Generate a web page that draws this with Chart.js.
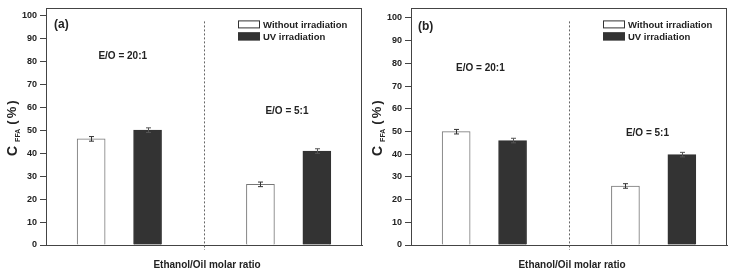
<!DOCTYPE html>
<html>
<head>
<meta charset="utf-8">
<script src="https://cdn.jsdelivr.net/npm/chart.js@4.4.1/dist/chart.umd.min.js"></script>
<style>
  html, body { margin: 0; padding: 0; background: #fff; }
  #wrap { position: relative; width: 733px; height: 275px; overflow: hidden; }
  #cA { position: absolute; left: 0; top: 0; }
  #cB { position: absolute; left: 365px; top: 0; }
</style>
</head>
<body>
<div id="wrap">
  <canvas id="cA" width="365" height="275"></canvas>
  <canvas id="cB" width="368" height="275"></canvas>
</div>
<script>
// ---- data ----
const seriesNames = ['Without irradiation', 'UV irradiation'];
const groupLabels = ['E/O = 20:1', 'E/O = 5:1'];
const panelLabels = ['(a)', '(b)'];
const xTitle = 'Ethanol/Oil molar ratio';
const yTickValues = [0, 10, 20, 30, 40, 50, 60, 70, 80, 90, 100];
// bar positions on the x axis (group 20:1 -> 1,2 ; group 5:1 -> 4,5)
const withoutX = [1, 4];
const uvX = [2, 5];
const dividerX = 3;
// panel (a)
const aWithout = [46.2, 26.4];
const aWithoutErr = [1.0, 1.0];
const aUV = [50.0, 40.9];
const aUVErr = [1.0, 1.0];
// panel (b)
const bWithout = [49.9, 26.0];
const bWithoutErr = [1.0, 1.0];
const bUV = [46.0, 39.8];
const bUVErr = [1.0, 1.0];

const FONT = '"Liberation Sans", Arial, sans-serif';
const AXIS = '#444';
const TXT = '#222';

function pts(xs, ys) { return xs.map((x, i) => ({ x: x, y: ys[i] })); }

function makePanel(id, cfg) {
  const overlay = {
    id: 'overlay',
    afterDatasetsDraw(chart) {
      const ctx = chart.ctx, xs = chart.scales.x, ys = chart.scales.y;
      ctx.save();
      ctx.lineWidth = 1;
      chart.data.datasets.forEach(ds => {
        ds.data.forEach((p, i) => {
          const e = ds.err[i];
          const px = Math.round(xs.getPixelForValue(p.x)) + 0.5;
          const y1 = ys.getPixelForValue(p.y + e), y2 = ys.getPixelForValue(p.y - e);
          ctx.strokeStyle = ds.errColor;
          ctx.beginPath();
          ctx.moveTo(px, y1); ctx.lineTo(px, y2);
          ctx.moveTo(px - 2.5, y1); ctx.lineTo(px + 2.5, y1);
          ctx.moveTo(px - 2.5, y2); ctx.lineTo(px + 2.5, y2);
          ctx.stroke();
        });
      });
      ctx.restore();
    },
    afterDraw(chart) {
      const ctx = chart.ctx, a = chart.chartArea, xs = chart.scales.x, ys = chart.scales.y;
      ctx.save();
      // frame
      ctx.strokeStyle = AXIS; ctx.lineWidth = 1;
      ctx.strokeRect(Math.round(a.left) + 0.5, Math.round(a.top) + 0.5,
                     Math.round(a.right - a.left) - 1, Math.round(a.bottom - a.top));
      // dotted divider
      const dx = Math.round(xs.getPixelForValue(dividerX)) + 0.5;
      ctx.strokeStyle = '#666'; ctx.setLineDash([2, 2]);
      ctx.beginPath(); ctx.moveTo(dx, a.top + 13); ctx.lineTo(dx, a.bottom + 5); ctx.stroke();
      ctx.setLineDash([]);
      // legend
      const lx = a.right - 124;
      const rows = [a.top + 12, a.top + 24];
      chart.data.datasets.forEach((ds, i) => {
        ctx.fillStyle = ds.backgroundColor;
        ctx.fillRect(lx, rows[i], 22, 8);
        ctx.strokeStyle = '#333';
        ctx.strokeRect(lx + 0.5, rows[i] + 0.5, 21, 7);
        ctx.fillStyle = TXT;
        ctx.font = 'bold 9.5px ' + FONT;
        ctx.textAlign = 'left'; ctx.textBaseline = 'middle';
        ctx.fillText(ds.label, lx + 25, rows[i] + 4.5);
      });
      // panel label
      ctx.font = 'bold 12px ' + FONT;
      ctx.textAlign = 'left'; ctx.textBaseline = 'middle';
      ctx.fillText(cfg.panel, a.left + cfg.panelDx, a.top + cfg.panelDy);
      // group annotations
      ctx.font = 'bold 10px ' + FONT;
      ctx.textAlign = 'center';
      cfg.notes.forEach((n, i) => {
        ctx.fillText(groupLabels[i], xs.getPixelForValue(n[0]), ys.getPixelForValue(n[1]));
      });
      // x title
      ctx.font = 'bold 10px ' + FONT;
      ctx.fillText(xTitle, (a.left + a.right) / 2 + 3, 265);
      // y title (rotated, with subscript)
      ctx.translate(17, 156);
      ctx.rotate(-Math.PI / 2);
      ctx.textAlign = 'left'; ctx.textBaseline = 'alphabetic';
      ctx.font = 'bold 14px ' + FONT;
      ctx.fillText('C', 0, 0);
      let w = ctx.measureText('C').width + 4;
      ctx.font = 'bold 7px ' + FONT;
      ctx.fillText('FFA', w, 3);
      w += ctx.measureText('FFA').width + 4;
      ctx.font = 'bold 13px ' + FONT;
      ctx.letterSpacing = '2px';
      ctx.fillText('(%)', w, -1);
      ctx.restore();
    }
  };

  return new Chart(document.getElementById(id), {
    type: 'bar',
    data: {
      datasets: [
        { label: seriesNames[0], data: pts(withoutX, cfg.without), err: cfg.withoutErr,
          backgroundColor: '#ffffff', borderColor: '#777', borderWidth: 1,
          errColor: '#333', grouped: false, barThickness: 28 },
        { label: seriesNames[1], data: pts(uvX, cfg.uv), err: cfg.uvErr,
          backgroundColor: '#333333', borderColor: '#333', borderWidth: 1,
          errColor: '#555', grouped: false, barThickness: 28 }
      ]
    },
    options: {
      responsive: false, animation: false,
      layout: { padding: { left: 0, right: cfg.padRight, top: 5, bottom: 0 } },
      plugins: { legend: { display: false }, tooltip: { enabled: false } },
      scales: {
        x: {
          type: 'linear', min: 0.2, max: 5.8, offset: false,
          grid: { display: false, offset: false },
          border: { display: true, color: AXIS },
          ticks: { display: false },
          afterFit(s) { s.height = 30; }
        },
        y: {
          min: 0, max: cfg.yMax,
          afterBuildTicks(s) { s.ticks = yTickValues.map(v => ({ value: v })); },
          grid: { drawOnChartArea: false, drawTicks: true, tickLength: 6, color: AXIS },
          border: { display: true, color: AXIS },
          ticks: { font: { family: FONT, size: 9, weight: 'bold' }, color: TXT, padding: 3 },
          afterFit(s) { s.width = cfg.yWidth; }
        }
      }
    },
    plugins: [overlay]
  });
}

makePanel('cA', {
  without: aWithout, withoutErr: aWithoutErr, uv: aUV, uvErr: aUVErr,
  yMax: 103, yWidth: 46, padRight: 3, panel: panelLabels[0], panelDx: 8, panelDy: 16,
  notes: [[1.56, 82.3], [4.47, 58.3]]
});
makePanel('cB', {
  without: bWithout, withoutErr: bWithoutErr, uv: bUV, uvErr: bUVErr,
  yMax: 104.2, yWidth: 46, padRight: 6, panel: panelLabels[1], panelDx: 7, panelDy: 18,
  notes: [[1.43, 77.7], [4.39, 49.1]]
});
</script>
</body>
</html>
